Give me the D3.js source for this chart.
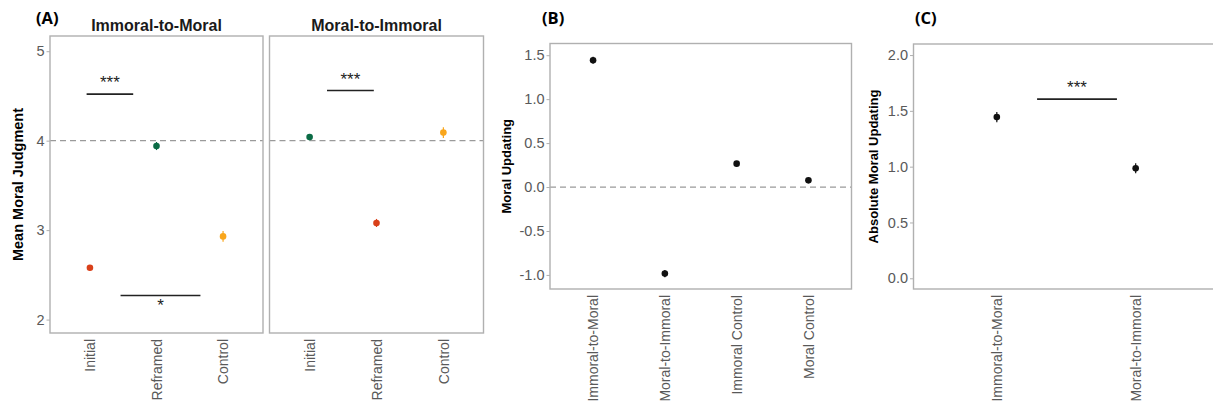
<!DOCTYPE html>
<html>
<head>
<meta charset="utf-8">
<script src="https://cdn.jsdelivr.net/npm/d3@7"></script>
<style>
  body { margin: 0; background: #fff; }
  text { font-family: "Liberation Sans", Arial, sans-serif; }
</style>
</head>
<body>
<div id="chart"></div>
<script>
// data
var facetNames = ['Immoral-to-Moral', 'Moral-to-Immoral'];
var conditions = ['Initial', 'Reframed', 'Control'];
var immoralToMoralMeans = [2.58, 3.94, 2.93];
var immoralToMoralSE = [0.03, 0.045, 0.06];
var moralToImmoralMeans = [4.04, 3.08, 4.09];
var moralToImmoralSE = [0.03, 0.045, 0.06];
var immoralToMoralValence = ['immoral', 'moral', 'control'];
var moralToImmoralValence = ['moral', 'immoral', 'control'];

var updatingGroups = ['Immoral-to-Moral', 'Moral-to-Immoral', 'Immoral Control', 'Moral Control'];
var updatingMeans = [1.443, -0.985, 0.266, 0.076];
var updatingSE = [0.04, 0.04, 0.03, 0.025];

var absGroups = ['Immoral-to-Moral', 'Moral-to-Immoral'];
var absMeans = [1.444, 0.985];
var absSE = [0.045, 0.045];

var ticksA = [2, 3, 4, 5];
var ticksB = [-1.0, -0.5, 0.0, 0.5, 1.0, 1.5];
var ticksC = [0.0, 0.5, 1.0, 1.5, 2.0];

// significance brackets: [from, to] in category units, y value, label
var sigLeft = [{x0: 0.95, x1: 1.65, y: 4.52, label: '***', below: false},
               {x0: 1.46, x1: 2.66, y: 2.27, label: '*', below: true}];
var sigRight = [{x0: 1.26, x1: 1.96, y: 4.56, label: '***', below: false}];
var sigC = [{x0: 1.29, x1: 1.865, y: 1.605, label: '***', below: false}];

var valenceColor = {immoral: '#d9401a', moral: '#0b6b45', control: '#f9a61c'};

var W = 1213, H = 410;
var svg = d3.select('#chart').append('svg')
  .attr('width', W).attr('height', H);

var borderCol = '#b0b0b0';
var tickTextCol = '#595959';

// ggplot prints a plain hyphen for negatives
var fmt1 = function(v) { return d3.format('.1f')(v).replace('\u2212', '-'); };

// one ggplot-like panel
function drawPanel(opt) {
  var g = svg.append('g');
  var x = d3.scalePoint().domain(opt.cats).range([opt.x0, opt.x1]).padding(0.6);
  var xc = d3.scaleLinear().domain([0.4, opt.cats.length + 0.6]).range([opt.x0, opt.x1]);
  var y = d3.scaleLinear().domain(opt.yDomain).range([opt.y1, opt.y0]);

  // reference line
  if (opt.refLine !== undefined) {
    g.append('line')
      .attr('x1', opt.x0).attr('x2', opt.x1)
      .attr('y1', y(opt.refLine)).attr('y2', y(opt.refLine))
      .attr('stroke', '#9a9a9a').attr('stroke-width', 1.3)
      .attr('stroke-dasharray', '6,4');
  }

  // border
  g.append('rect')
    .attr('x', opt.x0).attr('y', opt.y0)
    .attr('width', opt.x1 - opt.x0).attr('height', opt.y1 - opt.y0)
    .attr('fill', 'none').attr('stroke', borderCol).attr('stroke-width', 1.4);

  // y axis
  if (opt.yTicks) {
    var yAxis = g.append('g')
      .attr('transform', 'translate(' + opt.x0 + ',0)')
      .call(d3.axisLeft(y).tickValues(opt.yTicks).tickSize(3.5).tickPadding(2)
        .tickFormat(opt.yFormat || d3.format('d')));
    yAxis.select('.domain').remove();
    yAxis.selectAll('line').attr('stroke', borderCol);
    yAxis.selectAll('text').attr('fill', tickTextCol)
      .style('font-size', '14.5px').style('font-family', '"Liberation Sans", Arial, sans-serif');
  }

  // x axis labels, rotated
  var xAxis = g.append('g')
    .attr('transform', 'translate(0,' + opt.y1 + ')')
    .call(d3.axisBottom(x).tickSize(0).tickPadding(0));
  xAxis.select('.domain').remove();
  xAxis.selectAll('text')
    .attr('fill', tickTextCol)
    .style('font-size', '14px').style('font-family', '"Liberation Sans", Arial, sans-serif')
    .attr('text-anchor', 'end')
    .attr('transform', 'rotate(-90)')
    .attr('x', -6).attr('y', 0).attr('dy', '0.35em');

  // error bars + points
  var pts = opt.cats.map(function(c, i) {
    return {cat: c, mean: opt.means[i], se: opt.se[i], color: opt.colors[i]};
  });
  g.selectAll('.err').data(pts).enter().append('line')
    .attr('x1', function(d) { return x(d.cat); })
    .attr('x2', function(d) { return x(d.cat); })
    .attr('y1', function(d) { return y(d.mean - d.se); })
    .attr('y2', function(d) { return y(d.mean + d.se); })
    .attr('stroke', function(d) { return d.color; })
    .attr('stroke-width', 1.2);
  g.selectAll('.pt').data(pts).enter().append('circle')
    .attr('cx', function(d) { return x(d.cat); })
    .attr('cy', function(d) { return y(d.mean); })
    .attr('r', 3.3)
    .attr('fill', function(d) { return d.color; });

  // significance
  (opt.sig || []).forEach(function(s) {
    g.append('line')
      .attr('x1', xc(s.x0)).attr('x2', xc(s.x1))
      .attr('y1', y(s.y)).attr('y2', y(s.y))
      .attr('stroke', '#222').attr('stroke-width', 1.6);
    g.append('text')
      .attr('x', (xc(s.x0) + xc(s.x1)) / 2)
      .attr('y', s.below ? y(s.y) + 16 : y(s.y) - 6)
      .attr('text-anchor', 'middle')
      .attr('fill', '#222')
      .style('font-size', '17px')
      .text(s.label);
  });

  // facet title
  if (opt.title) {
    g.append('text')
      .attr('x', (opt.x0 + opt.x1) / 2).attr('y', 31)
      .attr('text-anchor', 'middle')
      .style('font-size', '16px').style('font-weight', 'bold')
      .attr('fill', '#1a1a1a')
      .text(opt.title);
  }

  // y title
  if (opt.yTitle) {
    g.append('text')
      .attr('transform', 'translate(' + opt.yTitleX + ',' + ((opt.y0 + opt.y1) / 2) + ') rotate(-90)')
      .attr('text-anchor', 'middle')
      .attr('dy', '0.35em')
      .style('font-size', opt.yTitleSize).style('font-weight', 'bold')
      .attr('fill', '#000')
      .text(opt.yTitle);
  }
}

// (A) left facet
drawPanel({
  x0: 50, x1: 263, y0: 36, y1: 333,
  cats: conditions, means: immoralToMoralMeans, se: immoralToMoralSE,
  colors: immoralToMoralValence.map(function(v) { return valenceColor[v]; }),
  yDomain: [1.85, 5.17], yTicks: ticksA, refLine: 4,
  sig: sigLeft, title: facetNames[0],
  yTitle: 'Mean Moral Judgment', yTitleX: 18, yTitleSize: '14.5px'
});
// (A) right facet
drawPanel({
  x0: 269.5, x1: 483.5, y0: 36, y1: 333,
  cats: conditions, means: moralToImmoralMeans, se: moralToImmoralSE,
  colors: moralToImmoralValence.map(function(v) { return valenceColor[v]; }),
  yDomain: [1.85, 5.17], refLine: 4,
  sig: sigRight, title: facetNames[1]
});
// (B)
drawPanel({
  x0: 550, x1: 851.5, y0: 43.5, y1: 289,
  cats: updatingGroups, means: updatingMeans, se: updatingSE,
  colors: updatingGroups.map(function() { return '#111'; }),
  yDomain: [-1.16, 1.633], yTicks: ticksB, yFormat: fmt1, refLine: 0,
  yTitle: 'Moral Updating', yTitleX: 506, yTitleSize: '13px'
});
// (C)
drawPanel({
  x0: 913.5, x1: 1219, y0: 44, y1: 289,
  cats: absGroups, means: absMeans, se: absSE,
  colors: absGroups.map(function() { return '#111'; }),
  yDomain: [-0.096, 2.099], yTicks: ticksC, yFormat: fmt1,
  sig: sigC,
  yTitle: 'Absolute Moral Updating', yTitleX: 873, yTitleSize: '13px'
});

// panel letters
var letters = [{t: '(A)', x: 36}, {t: '(B)', x: 542}, {t: '(C)', x: 915}];
svg.selectAll('.letter').data(letters).enter().append('text')
  .attr('x', function(d) { return d.x; })
  .attr('y', 24)
  .style('font-family', '"Open Sans", "Liberation Sans", sans-serif')
  .style('font-size', '16.5px').style('font-weight', 'bold')
  .attr('fill', '#000')
  .text(function(d) { return d.t; });
</script>
</body>
</html>
